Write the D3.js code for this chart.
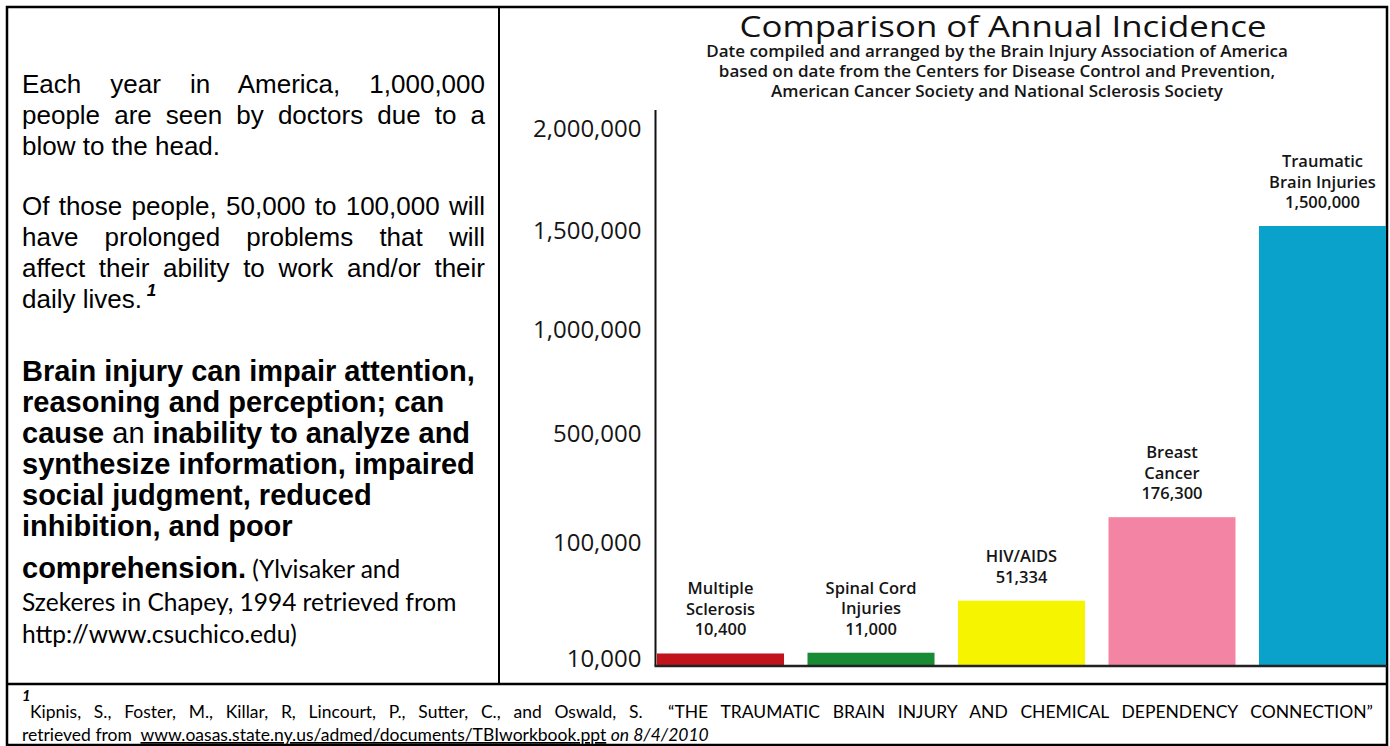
<!DOCTYPE html>
<html>
<head>
<meta charset="utf-8">
<script src="https://cdn.jsdelivr.net/npm/d3@7"></script>
<style>
  html, body { margin: 0; padding: 0; background: #fff; }
  svg { display: block; }
  text { white-space: pre; }
</style>
</head>
<body>
<svg id="chart" width="1390" height="746"></svg>
<script>
// ---------------- data ----------------
const categories = ["Multiple Sclerosis", "Spinal Cord Injuries", "HIV/AIDS", "Breast Cancer", "Traumatic Brain Injuries"];
const categoryLines = [["Multiple", "Sclerosis"], ["Spinal Cord", "Injuries"], ["HIV/AIDS"], ["Breast", "Cancer"], ["Traumatic", "Brain Injuries"]];
const values = [10400, 11000, 51334, 176300, 1500000];
const valueLabels = ["10,400", "11,000", "51,334", "176,300", "1,500,000"];
const barColors = ["#c1131c", "#198b35", "#f7f400", "#f484a3", "#0aa1cb"];
const tickValues = [10000, 100000, 500000, 1000000, 1500000, 2000000];
const tickLabels = ["10,000", "100,000", "500,000", "1,000,000", "1,500,000", "2,000,000"];

const titleText = "Comparison of Annual Incidence";
const subtitleLines = [
  "Date compiled and arranged by the Brain Injury Association of America",
  "based on date from the Centers for Disease Control and Prevention,",
  "American Cancer Society and National Sclerosis Society"
];

const para1 = ["Each year in America, 1,000,000", "people are seen by doctors due to a", "blow to the head."];
const para2 = ["Of those people, 50,000 to 100,000 will", "have prolonged problems that will", "affect their ability to work and/or their", "daily lives."];
const footer1 = "Kipnis, S., Foster, M., Killar, R, Lincourt, P., Sutter, C., and Oswald, S.  \u201CTHE TRAUMATIC BRAIN INJURY AND CHEMICAL DEPENDENCY CONNECTION\u201D";
const footerLink = "www.oasas.state.ny.us/admed/documents/TBIworkbook.ppt";

// ---------------- drawing ----------------
const svg = d3.select("#chart");
const ARIAL = "'Liberation Sans', Arial, sans-serif";
const CAL = "Lato, Carlito, Calibri, sans-serif";
const MYR = "'Open Sans', 'Noto Sans', sans-serif";

function justify(sel, width) {
  const node = sel.node();
  const natural = node.getComputedTextLength();
  const spaces = (node.textContent.match(/ /g) || []).length;
  if (spaces > 0 && natural < width) sel.style("word-spacing", ((width - natural) / spaces) + "px");
}

// table borders
svg.append("rect").attr("x", 7).attr("y", 7).attr("width", 1380).attr("height", 738)
  .attr("fill", "none").attr("stroke", "#000").attr("stroke-width", 2.5);
svg.append("line").attr("x1", 499).attr("x2", 499).attr("y1", 7).attr("y2", 684)
  .attr("stroke", "#000").attr("stroke-width", 2);
svg.append("line").attr("x1", 7).attr("x2", 1387).attr("y1", 684).attr("y2", 684)
  .attr("stroke", "#000").attr("stroke-width", 2.5);

// ---- left panel text ----
const LX = 22, LW = 463, LH = 31;
const left = svg.append("g").attr("font-family", ARIAL).attr("fill", "#000");
para1.forEach((t, i) => {
  const s = left.append("text").attr("x", LX).attr("y", 93 + i * LH).attr("font-size", 26).text(t);
  if (i < para1.length - 1) justify(s, LW);
});
para2.forEach((t, i) => {
  const s = left.append("text").attr("x", LX).attr("y", 215 + i * LH).attr("font-size", 26).text(t);
  if (i < para2.length - 1) justify(s, LW);
  if (i === para2.length - 1) {
    s.append("tspan").attr("font-size", 17).attr("font-weight", "bold").attr("font-style", "italic")
      .attr("dy", -12).text(" 1");
  }
});

const boldLines = [
  [["Brain injury can impair attention,", "bold"]],
  [["reasoning and perception; can", "bold"]],
  [["cause", "bold"], [" an ", "normal"], ["inability to analyze and", "bold"]],
  [["synthesize information, impaired", "bold"]],
  [["social judgment, reduced", "bold"]],
  [["inhibition, and poor", "bold"]]
];
boldLines.forEach((parts, i) => {
  const t = left.append("text").attr("x", LX).attr("y", 381 + i * 31).attr("font-size", 29);
  parts.forEach(p => t.append("tspan").attr("font-weight", p[1]).text(p[0]));
});
const comp = left.append("text").attr("x", LX).attr("y", 578).attr("font-size", 29);
comp.append("tspan").attr("font-weight", "bold").text("comprehension.");
comp.append("tspan").attr("font-family", CAL).attr("font-size", 24.5).text(" (Ylvisaker and");
left.append("text").attr("x", LX).attr("y", 611).attr("font-family", CAL).attr("font-size", 24.5)
  .text("Szekeres in Chapey, 1994 retrieved from");
left.append("text").attr("x", LX).attr("y", 643).attr("font-family", CAL).attr("font-size", 24.5)
  .text("http://www.csuchico.edu)");

// ---- footer ----
const foot = svg.append("g").attr("font-family", CAL).attr("fill", "#000");
foot.append("text").attr("x", 22).attr("y", 701).attr("font-size", 15)
  .attr("font-weight", "bold").attr("font-style", "italic").text("1");
const f1 = foot.append("text").attr("x", 30).attr("y", 718).attr("font-size", 17.5).text(footer1);
justify(f1, 1343);
const f2 = foot.append("text").attr("x", 22).attr("y", 741).attr("font-size", 17.5);
f2.append("tspan").text("retrieved from  ");
f2.append("tspan").attr("text-decoration", "underline").text(footerLink);
f2.append("tspan").text(" ");
f2.append("tspan").attr("font-style", "italic").text("on 8/4/2010");

// ---- chart ----
const CX = 997;
const chart = svg.append("g");
chart.append("text").attr("x", 1003).attr("y", 37).attr("text-anchor", "middle")
  .attr("font-family", MYR).attr("font-weight", 500).attr("font-size", 29).attr("fill", "#111")
  .attr("textLength", 527).attr("lengthAdjust", "spacingAndGlyphs").text(titleText);
subtitleLines.forEach((t, i) => {
  chart.append("text").attr("x", CX).attr("y", 57 + i * 20).attr("text-anchor", "middle")
    .attr("font-family", MYR).attr("font-weight", 600).attr("font-size", 17).attr("fill", "#151515").text(t);
});

const y = d3.scaleLinear()
  .domain([0, ...tickValues])
  .range([666, 654, 538, 429, 325, 226, 124]);
const x = d3.scaleBand().domain(categories).range([657, 1386]).paddingInner(0.156).paddingOuter(0);

const axisX = 655.5;
const yAxis = d3.axisLeft(y).tickValues(tickValues).tickSize(0).tickPadding(14)
  .tickFormat((d, i) => tickLabels[i]);
const ag = chart.append("g").attr("transform", `translate(${axisX},0)`).call(yAxis);
ag.select(".domain").remove();
ag.selectAll("text").attr("font-family", MYR).attr("font-size", 24).attr("fill", "#151515").attr("dy", "0.5em");

// bars
chart.selectAll("rect.bar").data(values).join("rect").attr("class", "bar")
  .attr("x", (d, i) => x(categories[i]))
  .attr("width", x.bandwidth())
  .attr("y", d => y(d))
  .attr("height", d => y(0) - y(d))
  .attr("fill", (d, i) => barColors[i]);

// axis lines
chart.append("line").attr("x1", axisX).attr("x2", axisX).attr("y1", y(0)).attr("y2", y(2000000) - 14)
  .attr("stroke", "#111").attr("stroke-width", 2);
chart.append("line").attr("x1", axisX - 1).attr("x2", 1387).attr("y1", y(0)).attr("y2", y(0))
  .attr("stroke", "#222").attr("stroke-width", 2.5);

// bar labels
values.forEach((v, i) => {
  const lines = categoryLines[i].concat([valueLabels[i]]);
  const cx = x(categories[i]) + x.bandwidth() / 2;
  const base = y(v) - 18;
  const t = chart.append("text").attr("text-anchor", "middle").attr("font-family", MYR)
    .attr("font-weight", 600).attr("font-size", 16.5).attr("fill", "#151515");
  lines.forEach((ln, k) => {
    t.append("tspan").attr("x", cx).attr("y", base - (lines.length - 1 - k) * 20.5).text(ln);
  });
});
</script>
</body>
</html>
